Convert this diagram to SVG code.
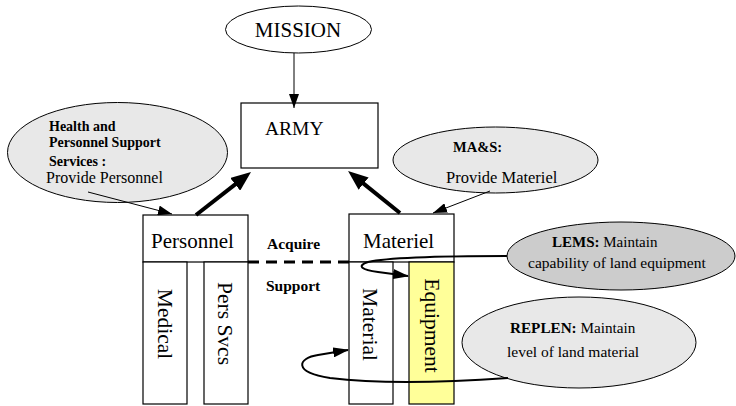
<svg xmlns="http://www.w3.org/2000/svg" width="736" height="406" viewBox="0 0 736 406">
<style>
.box{fill:#fff;stroke:#000;stroke-width:1.2}
.ell{fill:#e8e8e8;stroke:#000;stroke-width:1}
.t{font-family:"Liberation Serif","Times New Roman",serif;fill:#000}
.b{font-weight:bold}
.thin{fill:none;stroke:#000;stroke-width:1}
.thick{fill:none;stroke:#000;stroke-width:4}
.loop{fill:none;stroke:#000;stroke-width:2}
</style>
<defs>
<marker id="ah" viewBox="0 0 14 10" refX="14" refY="5" markerWidth="14" markerHeight="10" markerUnits="userSpaceOnUse" orient="auto">
<path d="M0,0 L14,5 L0,10 z" fill="#000"/>
</marker>
<marker id="ahc" viewBox="0 0 16 10" refX="15" refY="5" markerWidth="16" markerHeight="10" markerUnits="userSpaceOnUse" orient="auto">
<path d="M0,0 L16,5 L0,10 z" fill="#000"/>
</marker>
<marker id="ahb" viewBox="0 0 20 16" refX="4" refY="8" markerWidth="20" markerHeight="16" markerUnits="userSpaceOnUse" orient="auto">
<path d="M0,0 L20,8 L0,16 z" fill="#000"/>
</marker>
</defs>

<g id="mission">
<ellipse class="ell" cx="298.5" cy="29.5" rx="73" ry="23.5" fill="#fff" style="fill:#fff"/>
<text class="t" x="298" y="37" font-size="21" text-anchor="middle">MISSION</text>
</g>

<g id="army">
<rect class="box" x="241" y="103" width="137" height="65"/>
<text class="t" x="265" y="135" font-size="19.5">ARMY</text>
</g>

<g id="health">
<ellipse class="ell" cx="117.5" cy="152.5" rx="110" ry="50"/>
<text class="t b" x="49" y="131" font-size="14">Health and</text>
<text class="t b" x="49" y="147" font-size="14">Personnel Support</text>
<text class="t b" x="49" y="166" font-size="14">Services :</text>
<text class="t" x="46" y="183" font-size="16">Provide Personnel</text>
</g>

<g id="mas">
<ellipse class="ell" cx="495.5" cy="160" rx="102.5" ry="33"/>
<text class="t b" x="453" y="152" font-size="14.5">MA&amp;S:</text>
<text class="t" x="446" y="183" font-size="16.5">Provide Materiel</text>
</g>

<g id="personnel">
<rect class="box" x="143" y="215" width="105" height="47"/>
<text class="t" x="151" y="248" font-size="21">Personnel</text>
</g>

<g id="medical">
<rect class="box" x="143" y="262" width="44" height="142"/>
<text class="t" transform="translate(158,324) rotate(90)" font-size="21.5" text-anchor="middle">Medical</text>
</g>

<g id="perssvcs">
<rect class="box" x="204" y="262" width="44" height="142"/>
<text class="t" transform="translate(218,323.5) rotate(90)" font-size="21.5" text-anchor="middle">Pers Svcs</text>
</g>

<g id="materiel">
<rect class="box" x="349" y="214" width="105" height="48"/>
<text class="t" x="363" y="248" font-size="21">Materiel</text>
</g>

<g id="material">
<rect class="box" x="349" y="262" width="44" height="142"/>
<text class="t" transform="translate(363,324.5) rotate(90)" font-size="21.5" text-anchor="middle">Material</text>
</g>

<g id="equipment">
<rect class="box" x="409" y="262" width="45" height="142" style="fill:#ffff99"/>
<text class="t" transform="translate(425,325.5) rotate(90)" font-size="21.5" text-anchor="middle">Equipment</text>
</g>

<g id="lems">
<ellipse class="ell" cx="621" cy="256" rx="114" ry="34" style="fill:#cccccc"/>
<text class="t" x="552" y="247" font-size="15"><tspan class="b">LEMS:</tspan> Maintain</text>
<text class="t" x="528" y="268" font-size="15.5">capability of land equipment</text>
</g>

<g id="replen">
<ellipse class="ell" cx="579" cy="342.5" rx="117" ry="45.5"/>
<text class="t" x="510" y="333" font-size="15.2"><tspan class="b">REPLEN:</tspan> Maintain</text>
<text class="t" x="507" y="357" font-size="15.5">level of land material</text>
</g>

<g id="labels">
<text class="t b" x="267" y="249" font-size="15.5">Acquire</text>
<text class="t b" x="266" y="291" font-size="15.5">Support</text>
</g>

<g id="connectors">
<line class="thin" x1="294" y1="53" x2="294" y2="108" marker-end="url(#ah)"/>
<line class="thin" x1="88" y1="192" x2="172" y2="214" marker-end="url(#ah)"/>
<line class="thin" x1="490" y1="191" x2="433" y2="213" marker-end="url(#ah)"/>
<line class="thick" x1="196" y1="215" x2="238.4" y2="181.9" marker-end="url(#ahb)"/>
<line class="thick" x1="400" y1="213" x2="360.5" y2="181.1" marker-end="url(#ahb)"/>
<line x1="248" y1="262" x2="349" y2="262" stroke="#000" stroke-width="3" stroke-dasharray="11 7"/>
<path class="loop" d="M507,256 C460,256 390,257 368,262 C356,266 362,270 378,272 L408,276" marker-end="url(#ahc)"/>
<path class="loop" d="M508,378 C450,382 380,384 330,378 C292,372 298,358 318,355 L348,350" marker-end="url(#ahc)"/>
</g>
</svg>
